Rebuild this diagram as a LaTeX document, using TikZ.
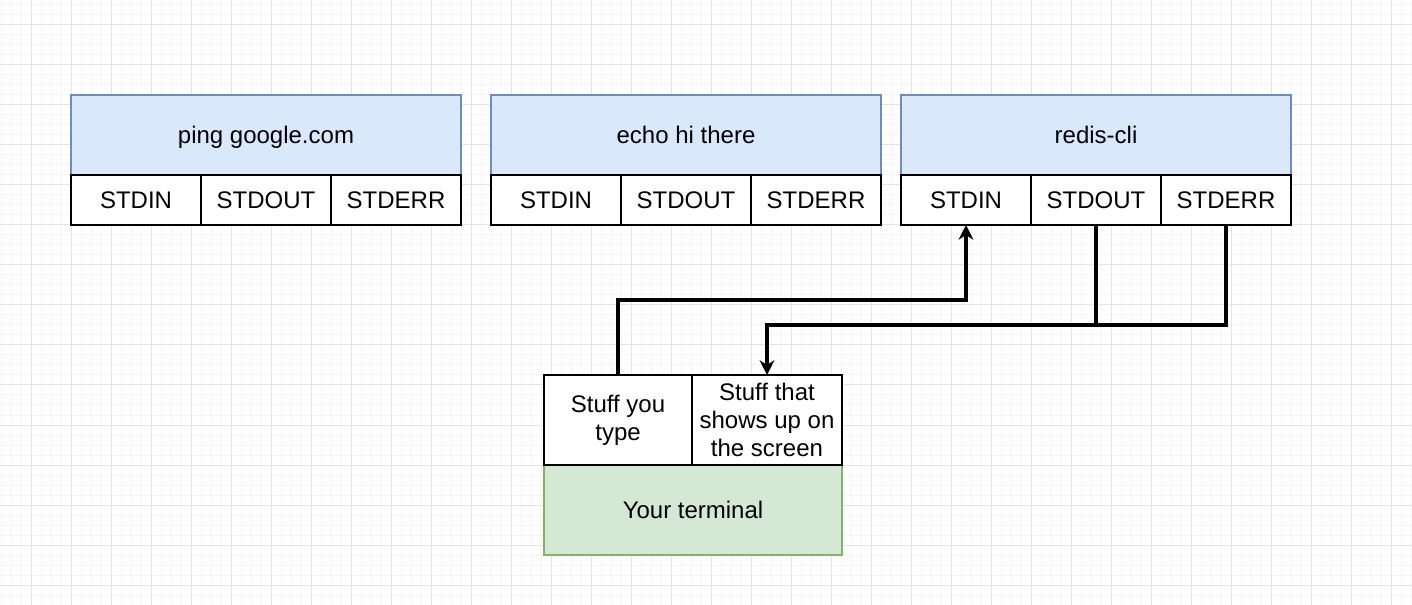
\documentclass[tikz,border=0pt]{standalone}
\usepackage{fontspec}
\setmainfont{Liberation Sans}
\usetikzlibrary{arrows.meta,positioning}
\definecolor{cmdfill}{HTML}{DAE8FC}
\definecolor{cmdline}{HTML}{6C8EBF}
\definecolor{termfill}{HTML}{D5E8D4}
\definecolor{termline}{HTML}{82B366}
\definecolor{minorgrid}{HTML}{F5F5F5}
\definecolor{majorgrid}{HTML}{E4E4E4}
\newcommand\pxu{0.75pt}
\tikzset{
  every node/.style={font=\fontsize{18}{21}\selectfont, inner sep=0pt, outer sep=0pt},
  oneline/.style={text height=13pt, text depth=0pt},
  cmdbox/.style={oneline, draw=cmdline, fill=cmdfill, line width=1.5pt, minimum width=390*\pxu, minimum height=80*\pxu},
  cell/.style={draw=black, fill=white, line width=2.2pt, minimum width=130*\pxu, minimum height=50*\pxu},
  termbox/.style={oneline, draw=termline, fill=termfill, line width=1.5pt, minimum width=298*\pxu, minimum height=90*\pxu},
  wire/.style={line width=2.3pt, line join=miter},
  tip/.style={-{Stealth[length=11pt,width=11pt,inset=3.5pt]}}
}

\begin{document}
\begin{tikzpicture}[x=\pxu, y=-\pxu]
\useasboundingbox (0,0) rectangle (1412,605);
\fill[white] (0,0) rectangle (1412,605);
% grid
\foreach \x in {1,11,...,1411} \draw[minorgrid, line width=0.75pt] (\x,0) -- (\x,605);
\foreach \y in {5,15,...,605} \draw[minorgrid, line width=0.75pt] (0,\y) -- (1412,\y);
\foreach \x in {31,71,...,1411} \draw[majorgrid, line width=0.75pt] (\x,0) -- (\x,605);
\foreach \y in {25,65,...,605} \draw[majorgrid, line width=0.75pt] (0,\y) -- (1412,\y);

% the three processes
\foreach \id/\x/\cmd in {ping/71/ping google.com, echo/491/echo hi there, redis/901/redis-cli}{
  \node[cmdbox, anchor=north west] (\id) at (\x,95) {\cmd};
  \node[cell, oneline, anchor=north west] (\id-in) at (\id.south west) {STDIN};
  \node[cell, oneline, anchor=north west] (\id-out) at (\id-in.north east) {STDOUT};
  \node[cell, oneline, anchor=north west] (\id-err) at (\id-out.north east) {STDERR};
}

% terminal
\node[termbox, anchor=north west] (term) at (544,465) {Your terminal};
\node[cell, anchor=south west, minimum width=148*\pxu, minimum height=90*\pxu, align=center] (typed) at (term.north west) {Stuff you\\type};
\node[cell, anchor=north west, minimum width=150*\pxu, minimum height=90*\pxu, align=center] (screen) at (typed.north east) {Stuff that\\shows up on\\the screen};

% connectors
\draw[wire, tip] (typed.north) -- ++(0,-75) -| (redis-in.south);
\draw[wire] (redis-out.south) -- ++(0,100);
\draw[wire, tip] (redis-err.south) -- ++(0,100) -| (screen.north);
\end{tikzpicture}
\end{document}
